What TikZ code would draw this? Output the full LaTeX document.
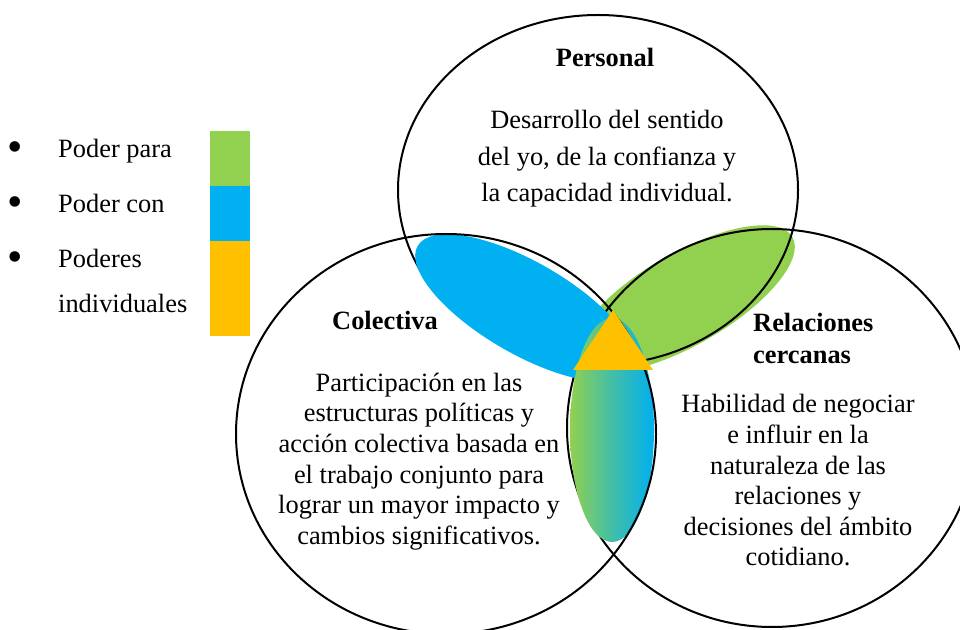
\documentclass[tikz,border=0pt]{standalone}
\usepackage{fontspec}
\setmainfont{Liberation Serif}
\definecolor{pgreen}{HTML}{92D050}
\definecolor{pblue}{HTML}{00B0F0}
\definecolor{porange}{HTML}{FFC000}
\begin{document}
\begin{tikzpicture}[x=1pt,y=1pt,
  ring/.style={draw=black, line width=2pt},
  bodytext/.style={align=center, inner sep=0pt, font=\fontsize{26.4}{30.6}\selectfont},
  titletext/.style={inner sep=0pt, font=\fontsize{26.4}{32}\selectfont\bfseries},
  legtext/.style={anchor=west, inner sep=0pt, font=\fontsize{26.4}{30}\selectfont, text height=18pt, text depth=6pt},
  bullettext/.style={inner sep=0pt, font=\fontsize{44}{44}\selectfont}]
\useasboundingbox (0,0) rectangle (960,629);
% petals and circles (layered as in the reference)
\fill[pgreen, rotate around={30:(685,330)}] (685,330) ellipse [x radius=124, y radius=46];
\draw[ring] (598,439) ellipse [x radius=200, y radius=175];
\draw[ring] (772,201) ellipse [x radius=205, y radius=199];
\fill[pblue, rotate around={-30:(525,321)}] (525,321) ellipse [x radius=124, y radius=46];
\shade[left color=pgreen, right color=pblue, middle color=pgreen!45!pblue] (612,199) ellipse [x radius=42, y radius=112];
\draw[ring] (446,195) ellipse [x radius=210, y radius=200];
\fill[porange] (613,319) -- (573,259) -- (653,259) -- cycle;
% titles
\node[titletext] (tp) at (605,572) {Personal};
\node[titletext] (tc) at (385,309) {Colectiva};
\node[titletext, anchor=west, align=left] (tr) at (753,291) {Relaciones\\[0pt]cercanas};
% bodies
\node[bodytext, font=\fontsize{26.4}{36.5}\selectfont] (bp) at (607,470) {Desarrollo del sentido\\del yo, de la confianza y\\la capacidad individual.};
\node[bodytext] (bc) at (419,167.5) {Participación en las\\estructuras políticas y\\acción colectiva basada en\\el trabajo conjunto para\\lograr un mayor impacto y\\cambios significativos.};
\node[bodytext] (br) at (798,148.5) {Habilidad de negociar\\e influir en la\\naturaleza de las\\relaciones y\\decisiones del ámbito\\cotidiano.};
% legend
\node[bullettext] (b1) at (15,477) {•};
\node[bullettext] (b2) at (15,422) {•};
\node[bullettext] (b3) at (15,367) {•};
\node[legtext] (l1) at (58,477) {Poder para};
\node[legtext] (l2) at (58,422) {Poder con};
\node[legtext] (l3) at (58,367) {Poderes};
\node[legtext] (l4) at (58,322) {individuales};
\fill[pgreen] (210,498) rectangle (250,443);
\fill[pblue] (210,443) rectangle (250,388);
\fill[porange] (210,388) rectangle (250,293);
\end{tikzpicture}
\end{document}
